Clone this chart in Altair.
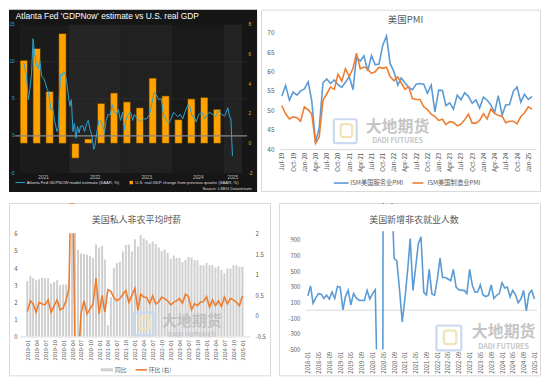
import altair as alt
import pandas as pd

# ===================== DATA =====================
# Panel 1 : Atlanta Fed GDPNow vs U.S. real GDP
gdp_quarters = ["2021Q1", "2021Q2", "2021Q3", "2021Q4", "2022Q1", "2022Q2", "2022Q3", "2022Q4",
                "2023Q1", "2023Q2", "2023Q3", "2023Q4", "2024Q1", "2024Q2", "2024Q3", "2024Q4"]
gdp_growth = [5.6, 6.4, 3.5, 7.4, -1.0, 0.3, 2.7, 3.4, 2.8, 2.4, 4.4, 3.2, 1.6, 3.0, 3.1, 2.3]

gdpnow_time = [
    2021.125, 2021.173, 2021.214, 2021.244, 2021.274, 2021.304, 2021.333, 2021.375, 2021.411, 2021.435,
    2021.470, 2021.512, 2021.542, 2021.571, 2021.601, 2021.649, 2021.690, 2021.720, 2021.768, 2021.792,
    2021.810, 2021.839, 2021.869, 2021.899, 2021.929, 2021.958, 2021.988, 2022.018, 2022.048, 2022.077,
    2022.107, 2022.137, 2022.167, 2022.196, 2022.226, 2022.268, 2022.304, 2022.345, 2022.375, 2022.405,
    2022.446, 2022.482, 2022.506, 2022.542, 2022.583, 2022.625, 2022.661, 2022.690, 2022.720, 2022.762,
    2022.804, 2022.839, 2022.881, 2022.923, 2022.958, 2023.000, 2023.042, 2023.077, 2023.101, 2023.149,
    2023.196, 2023.238, 2023.268, 2023.327, 2023.387, 2023.446, 2023.506, 2023.565, 2023.613, 2023.655,
    2023.696, 2023.744, 2023.792, 2023.833, 2023.893, 2023.935, 2023.982, 2024.030, 2024.071, 2024.113,
    2024.161, 2024.208, 2024.250, 2024.310, 2024.351, 2024.387, 2024.429, 2024.470, 2024.518, 2024.577,
    2024.637, 2024.685, 2024.726, 2024.786, 2024.845, 2024.905, 2024.964, 2025.024, 2025.083, 2025.113,
    2025.143, 2025.161, 2025.173]
gdpnow_value = [
    9.8, 8.3, 4.9, 6.4, 8.3, 13.1, 11.1, 9.4, 9.1, 10.2,
    8.1, 7.7, 7.2, 6.4, 6.0, 3.6, 3.6, 2.1, 0.6, 1.0,
    5.1, 8.3, 8.1, 8.7, 8.3, 7.2, 5.5, 4.0, 4.9, 0.6,
    1.7, -0.3, 1.3, 0.4, 1.3, 1.4, 0.6, 1.7, 2.1, 1.0,
    0.0, -1.8, -1.3, 0.6, 2.1, 1.9, 1.3, 0.4, 2.1, 2.9,
    2.9, 4.2, 3.2, 2.9, 3.6, 2.1, 3.2, 0.8, 2.1, 2.9,
    3.2, 2.1, 2.9, 2.3, 1.9, 2.3, 2.3, 2.9, 4.5, 5.9,
    5.5, 4.9, 5.0, 2.9, 2.1, 1.7, 2.3, 3.2, 2.9, 2.6,
    2.9, 2.3, 3.2, 4.2, 3.8, 2.7, 2.6, 1.9, 2.9, 3.2,
    2.3, 2.9, 3.2, 2.9, 2.6, 3.4, 2.9, 2.7, 3.8, 2.7,
    2.3, -0.9, -2.7]
band_start = [2021.05, 2022, 2023, 2024, 2025]
band_end = [2022, 2023, 2024, 2025, 2025.36]
band_shade = ["#1b1b1b", "#252525", "#212121", "#1a1a1a", "#232323"]
year_label_pos = [2021.5, 2022.5, 2023.5, 2024.5, 2025.17]
gdpnow_ticks = [-5, 0, 5, 10, 15]
gdp_ticks = [-2, 0, 2, 4, 6, 8]
gdpnow_grid = [5, 10]

# Panel 2 : ISM PMI (Jul-2019 .. Feb-2025)
pmi_first_month = "2019-07-01"
pmi_services = [
    53.7, 56.4, 52.6, 54.7, 53.9, 55.0,
    55.5, 57.3, 52.5, 41.8, 45.4, 57.1, 58.1, 56.9, 57.8, 56.6, 55.9, 57.2,
    58.7, 55.3, 63.7, 62.7, 64.0, 60.1, 64.1, 61.7, 61.9, 66.7, 69.1, 62.0,
    59.9, 56.5, 58.3, 57.1, 55.9, 55.3, 56.7, 56.9, 56.7, 54.4, 56.5, 49.6,
    55.2, 55.1, 51.2, 51.9, 50.3, 53.9, 52.7, 54.5, 53.6, 51.8, 52.7, 50.6,
    53.4, 52.6, 51.4, 49.4, 53.8, 48.8, 51.4, 51.5, 54.9, 56.0, 52.1, 54.1,
    52.8, 53.5]
pmi_manufacturing = [
    51.2, 49.1, 47.8, 48.3, 48.1, 47.2,
    50.9, 50.1, 49.1, 41.5, 43.1, 52.6, 54.2, 56.0, 55.4, 59.3, 57.5, 60.7,
    58.7, 60.8, 64.7, 60.7, 61.2, 60.6, 59.5, 59.9, 61.1, 60.8, 61.1, 58.7,
    57.6, 58.6, 57.1, 55.4, 56.1, 53.0, 52.8, 52.8, 50.9, 50.2, 49.0, 48.4,
    47.4, 47.7, 46.3, 47.1, 46.9, 46.0, 46.4, 47.6, 49.0, 46.7, 46.7, 47.4,
    49.1, 47.8, 50.3, 49.2, 48.7, 48.5, 46.8, 47.2, 47.2, 46.5, 48.4, 49.3,
    50.9, 50.3]
pmi_names = ["ISM美国服务业PMI", "ISM美国制造业PMI"]
pmi_ticks = [40, 45, 50, 55, 60, 65, 70]

# Panel 3 : average hourly earnings, private nonfarm (Jan-2019 .. Jan-2025)
wage_first_month = "2019-01-01"
wage_yoy = [
    3.25, 3.53, 3.41, 3.28, 3.34, 3.43, 3.41, 3.41, 3.10, 3.19, 3.28, 3.00,
    3.04, 3.04, 3.10, 8.00, 6.70, 5.06, 4.84, 4.82, 4.78, 4.69, 4.60, 5.38,
    5.20, 5.30, 4.50, 0.65, 2.30, 4.00, 4.30, 4.37, 4.97, 5.35, 5.38, 4.97,
    5.68, 5.25, 5.93, 5.74, 5.63, 5.44, 5.55, 5.40, 5.20, 5.00, 5.10, 4.90,
    4.55, 4.73, 4.60, 4.60, 4.36, 4.49, 4.64, 4.60, 4.45, 4.45, 4.17, 4.17,
    4.30, 4.17, 4.17, 4.03, 4.10, 3.88, 3.69, 3.98, 3.98, 4.17, 4.17, 4.07,
    4.07]
wage_mom = [
    0.11, 0.37, 0.30, 0.09, 0.33, 0.29, 0.27, 0.39, 0.09, 0.25, 0.39, 0.15,
    0.19, 0.38, 0.68, 4.70, -1.00, -1.20, 0.05, 0.37, 0.05, 0.17, 0.29, 0.92,
    0.05, 0.50, 0.09, 0.64, 0.60, 0.45, 0.37, 0.42, 0.53, 0.62, 0.33, 0.50,
    0.67, 0.13, 0.53, 0.46, 0.45, 0.30, 0.49, 0.29, 0.34, 0.46, 0.42, 0.37,
    0.27, 0.33, 0.37, 0.42, 0.31, 0.53, 0.47, 0.15, 0.30, 0.25, 0.34, 0.35,
    0.47, 0.21, 0.39, 0.25, 0.37, 0.23, 0.46, 0.29, 0.43, 0.39, 0.33, 0.25,
    0.49]
wage_yoy_ticks = [0, 1, 2, 3, 4, 5, 6]
wage_mom_ticks = [-0.5, 0, 0.5, 1, 1.5, 2]

# Panel 4 : nonfarm payroll change, thousands (Jan-2018 .. Jan-2025)
nfp_first_month = "2018-01-01"
nfp_change = [
    183, 308, 88, 158, 212, 204, 150, 192, 142, 233, 150, 304,
    296, 4, 171, 254, 67, 212, 158, 129, 125, 125, 254, 142,
    212, 262, -1373, -20477, 2793, 4846, 1726, 1583, 660, 630, 260, -149,
    150, 520, 915, 253, 540, 853, 936, 232, 196, 522, 208, 190,
    398, 666, 418, 418, 398, 377, 522, 294, 260, 253, 253, 212,
    522, 315, 232, 232, 323, 196, 175, 190, 323, 150, 190, 212,
    350, 283, 295, 170, 253, 196, 96, 142, 253, -8, 212, 253,
    142]
nfp_ticks = [-500, -300, -100, 100, 300, 500, 700, 900]

# ===================== STYLE / HELPERS =====================
CJK = "Noto Sans CJK SC"
LAT = "Liberation Sans"
GREY = "#595959"
BLUE = "#5B9BD5"
ORANGE = "#ED7D31"
ONE = pd.DataFrame({"k": [0]})


def box(x0, y0, x1, y1, **kw):
    return alt.Chart(ONE).mark_rect(**kw).encode(
        x=alt.value(x0), x2=alt.value(x1), y=alt.value(y0), y2=alt.value(y1))


def txt(s, x, y, size, color, font=CJK, align="center", **kw):
    return alt.Chart(ONE).mark_text(text=s, font=font, fontSize=size, color=color,
                                    align=align, baseline="middle", **kw).encode(
        x=alt.value(x), y=alt.value(y))


def seg(x0, x1, y, color, width):
    return alt.Chart(ONE).mark_rule(color=color, strokeWidth=width).encode(
        x=alt.value(x0), x2=alt.value(x1), y=alt.value(y))


def watermark(lx, ly, lw, lh, tx, ty, ty2, fs):
    return [
        box(lx, ly, lx + lw, ly + lh, fillOpacity=0, stroke="#c9d9ef", strokeWidth=2.2, cornerRadius=2),
        box(lx + lw * 0.3, ly + lh * 0.2, lx + lw * 0.8, ly + lh * 0.75, fillOpacity=0,
            stroke="#f1e3b5", strokeWidth=2.2, cornerRadius=3),
        txt("大地期货", tx, ty, fs, "#bcbcbc", fontWeight="bold", opacity=0.85),
        txt("DADI FUTURES", tx, ty2, fs * 0.44, "#c6c6c6", fontWeight="bold"),
    ]


def axis(**kw):
    base = dict(labelFont=CJK, labelColor=GREY, ticks=False, grid=False, title=None,
                labelFlush=False, labelOverlap=False, zindex=1, domain=False)
    base.update(kw)
    return alt.Axis(**base)


# ===================== PANEL 1 =====================
# view origin = panel box top-left; plot area = [6, 239] x [15, 164]
W1, H1 = 239, 164
X1 = alt.Scale(domain=[2021.05, 2025.36], range=[6, 239], nice=False, zero=False)
YL1 = alt.Scale(domain=[-5, 15], range=[164, 15], nice=False, zero=False)
YR1 = alt.Scale(domain=[-2, 8], range=[164, 15], nice=False)

df_gdp = pd.DataFrame({"t": [int(q[:4]) + (int(q[-1]) - 0.5) / 4 for q in gdp_quarters], "v": gdp_growth})
df_now = pd.DataFrame({"t": gdpnow_time, "v": gdpnow_value})
df_band = pd.DataFrame({"s": band_start, "e": band_end, "c": band_shade})
df_grid = pd.DataFrame({"g": gdpnow_grid})
df_zero = pd.DataFrame({"g": [0]})

ax1x = axis(values=year_label_pos, labelExpr="floor(datum.value)", labelFont=LAT, labelFontSize=4.8,
            labelColor="#bdbdbd", labelPadding=1)
ax1l = axis(orient="left", values=gdpnow_ticks, labelExpr="'' + datum.value", labelFont=LAT,
            labelFontSize=4.6, labelColor="#33a6d6", labelPadding=1, offset=-6)
ax1r = axis(orient="right", values=gdp_ticks, labelExpr="'' + datum.value", labelFont=LAT,
            labelFontSize=4.6, labelColor="#f5a623", labelPadding=1)

p1 = alt.layer(
    box(0, 0, 249, 183, color="#161616"),
    alt.Chart(df_band).mark_rect().encode(
        x=alt.X("s:Q", scale=X1, axis=ax1x), x2="e:Q",
        y=alt.value(15), y2=alt.value(164), color=alt.Color("c:N", scale=None)),
    alt.Chart(df_grid).mark_rule(color="#333333", strokeWidth=0.6).encode(
        x=alt.value(6), x2=alt.value(239), y=alt.Y("g:Q", scale=YL1, axis=None)),
    alt.Chart(df_gdp).mark_bar(size=7.5, color="#ffa200", stroke="#3a2806", strokeWidth=0.7).encode(
        x=alt.X("t:Q", scale=X1, axis=ax1x), y=alt.Y("v:Q", scale=YR1, axis=ax1r)),
    alt.Chart(df_zero).mark_rule(color="#8a8a8a", strokeWidth=1.2).encode(
        x=alt.value(6), x2=alt.value(239), y=alt.Y("g:Q", scale=YL1, axis=None)),
    alt.Chart(df_now).mark_line(color="#2aa5d5", strokeWidth=1).encode(
        x=alt.X("t:Q", scale=X1, axis=ax1x), y=alt.Y("v:Q", scale=YL1, axis=ax1l)),
    txt("Atlanta Fed 'GDPNow' estimate vs U.S. real GDP", 6.8, 6.8, 8.4, "#ffffff", font=LAT, align="left"),
    seg(6.5, 16, 173.5, "#2aa5d5", 1),
    txt("Atlanta Fed GDPNOW model estimate (SAAR, %)", 17.7, 173.5, 4.2, "#dddddd", font=LAT, align="left"),
    box(121, 171.8, 124.4, 175.2, color="#ffa200"),
    txt("U.S. real GDP change from previous quarter (SAAR, %)", 126.7, 173.5, 4.2, "#dddddd",
        font=LAT, align="left"),
    txt("Source: LSEG Datastream", 243.7, 180.3, 4.2, "#dddddd", font=LAT, align="right"),
).resolve_scale(y="independent").properties(width=W1, height=H1)

# ===================== PANEL 2 =====================
# view origin = box top-left; plot area = [19, 276] x [23, 140]
W2, H2 = 276, 140
pmi_months = pd.date_range(pmi_first_month, periods=len(pmi_services), freq="MS")
df_pmi = pd.DataFrame({
    "m": list(pmi_months) * 2,
    "v": pmi_services + pmi_manufacturing,
    "s": [pmi_names[0]] * len(pmi_services) + [pmi_names[1]] * len(pmi_manufacturing)})
X2 = alt.Scale(domain=[alt.DateTime(year=2019, month=6, date=16), alt.DateTime(year=2025, month=3, date=5)],
               range=[19, 276])
Y2 = alt.Scale(domain=[40, 70], range=[140, 23], nice=False, zero=False)
ax2x = axis(format="%b-%y", tickCount={"interval": "month", "step": 3}, labelAngle=270,
            labelFontSize=6.3, labelPadding=3, domain=True, domainColor="#d9d9d9")
ax2y = axis(values=pmi_ticks, labelFontSize=6.5, labelPadding=6, offset=-19)

p2 = alt.layer(
    box(0.5, 0.5, 280.5, 182.5, fill="#ffffff", stroke="#d9d9d9", strokeWidth=1),
    *watermark(73, 110, 23, 24, 137, 117.3, 132, 16),
    alt.Chart(df_pmi).mark_line(strokeWidth=1.6).encode(
        x=alt.X("m:T", scale=X2, axis=ax2x),
        y=alt.Y("v:Q", scale=Y2, axis=ax2y),
        color=alt.Color("s:N", scale=alt.Scale(domain=pmi_names, range=[BLUE, ORANGE]), legend=None)),
    txt("美国PMI", 145, 10, 9.5, GREY),
    seg(73, 88, 174, BLUE, 1.6),
    txt(pmi_names[0], 89.5, 174, 6.3, GREY, align="left"),
    seg(152, 163, 174, ORANGE, 1.6),
    txt(pmi_names[1], 167, 174, 6.3, GREY, align="left"),
).properties(width=W2, height=H2)

# ===================== PANEL 3 =====================
# view origin = box top-left; plot area = [11, 242] x [31, 134]
W3, H3 = 242, 134
wage_months = pd.date_range(wage_first_month, periods=len(wage_yoy), freq="MS")
df_wage = pd.DataFrame({"m": wage_months, "yoy": wage_yoy, "mom": wage_mom})
X3 = alt.Scale(domain=[alt.DateTime(year=2018, month=12, date=8), alt.DateTime(year=2025, month=1, date=28)],
               range=[11, 242])
Y3L = alt.Scale(domain=[0, 6], range=[134, 31], nice=False)
Y3R = alt.Scale(domain=[-0.5, 2], range=[134, 31], nice=False, zero=False)
ax3x = axis(format="%Y-%m", tickCount={"interval": "month", "step": 3}, labelAngle=270,
            labelFontSize=5.6, labelPadding=3, domain=True, domainColor="#d9d9d9")
ax3l = axis(orient="left", values=wage_yoy_ticks, labelFontSize=6, labelPadding=3, offset=-11)
ax3r = axis(orient="right", values=wage_mom_ticks, labelExpr="'' + datum.value",
            labelFontSize=6, labelPadding=5)

p3 = alt.layer(
    box(0.5, 0.5, 262.5, 173.5, fill="#ffffff", stroke="#d9d9d9", strokeWidth=1),
    alt.Chart(df_wage).mark_bar(size=2, color="#cfcfcf", clip=True).encode(
        x=alt.X("m:T", scale=X3, axis=ax3x), y=alt.Y("yoy:Q", scale=Y3L, axis=ax3l)),
    alt.Chart(df_wage).mark_line(color=ORANGE, strokeWidth=1.6, clip=True).encode(
        x=alt.X("m:T", scale=X3, axis=ax3x), y=alt.Y("mom:Q", scale=Y3R, axis=ax3r)),
    box(1, 1, 262, 30.5, color="#ffffff"),
    *watermark(125, 110, 20, 23, 183.5, 118.8, 133, 15),
    txt("美国私人非农平均时薪", 128, 17, 9, GREY),
    box(92, 166, 104.3, 169, color="#cfcfcf"),
    txt("同比", 106.3, 167.5, 5.8, GREY, align="left"),
    seg(127, 138.7, 167.5, ORANGE, 1.6),
    txt("环比 (右)", 140.3, 167.5, 5.8, GREY, align="left"),
).resolve_scale(y="independent").properties(width=W3, height=H3)

# ===================== PANEL 4 =====================
# view origin = box top-left; plot area = [27, 259] x [29, 147]
W4, H4 = 259, 147
nfp_months = pd.date_range(nfp_first_month, periods=len(nfp_change), freq="MS")
df_nfp = pd.DataFrame({"m": nfp_months, "v": nfp_change})
X4 = alt.Scale(domain=[alt.DateTime(year=2017, month=12, date=10), alt.DateTime(year=2025, month=1, date=30)],
               range=[27, 259])
Y4 = alt.Scale(domain=[-500, 1000], range=[147, 29], nice=False, zero=False)
ax4x = axis(format="%Y-%m", tickCount={"interval": "month", "step": 4}, labelAngle=270,
            labelFontSize=6, labelPadding=2)
ax4y = axis(values=nfp_ticks, labelExpr="'' + datum.value", labelFontSize=6, labelPadding=6, offset=-27)

p4 = alt.layer(
    box(0.5, 0.5, 262.5, 173.5, fill="#ffffff", stroke="#d9d9d9", strokeWidth=1),
    *watermark(158, 123, 25, 25, 225.5, 129.8, 144.5, 16),
    alt.Chart(pd.DataFrame({"z": [0]})).mark_rule(color="#d9d9d9", strokeWidth=1).encode(
        x=alt.value(27), x2=alt.value(259), y=alt.Y("z:Q", scale=Y4, axis=ax4y)),
    alt.Chart(df_nfp).mark_line(color=BLUE, strokeWidth=1.6, clip=True).encode(
        x=alt.X("m:T", scale=X4, axis=ax4x), y=alt.Y("v:Q", scale=Y4, axis=ax4y)),
    box(1, 1, 262, 28.5, color="#ffffff"),
    txt("美国新增非农就业人数", 135.5, 17, 9, GREY),
).properties(width=W4, height=H4)

# ===================== LAYOUT =====================
row1 = alt.hconcat(p1, p2, spacing=2)
row2 = alt.hconcat(p3, p4, spacing=6)
chart = alt.vconcat(row1, row2, spacing=9).properties(padding=0).configure_view(stroke="transparent")

chart.save("out.html", embed_options={"renderer": "svg", "actions": False})
